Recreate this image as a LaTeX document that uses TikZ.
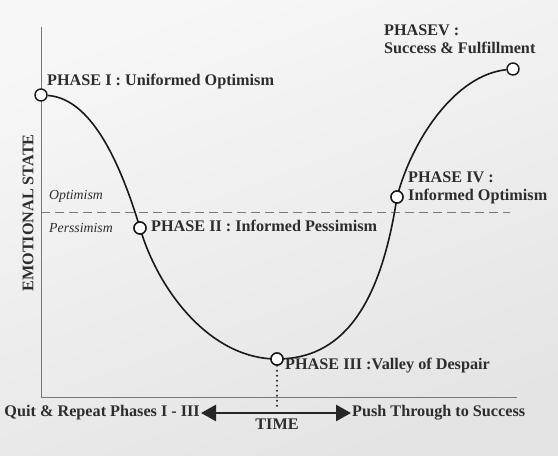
\documentclass[tikz,border=0pt]{standalone}
\usepackage{fontspec}
\setmainfont{Liberation Serif}
\usetikzlibrary{arrows.meta}
\definecolor{bgtop}{RGB}{247,247,247}
\definecolor{bgbot}{RGB}{228,228,228}
\definecolor{axisgray}{RGB}{120,120,120}
\definecolor{txt}{RGB}{45,45,45}

\begin{document}
\begin{tikzpicture}[x=1pt, y=-1pt,
  dot/.style={circle, draw=black!90, fill=white, line width=1.4pt, minimum size=12pt, inner sep=0pt},
  lbl/.style={text=txt, font=\fontsize{16.2}{18}\selectfont\bfseries, inner sep=1pt},
  side/.style={text=txt, font=\fontsize{13.8}{15}\selectfont\itshape, inner sep=1pt},
  axis/.style={draw=axisgray, line width=1pt}]
  \shade[top color=bgtop, bottom color=bgbot, shading angle=20] (0,0) rectangle (558,456);
  \useasboundingbox (0,0) rectangle (558,456);

  % axes and the optimism line
  \draw[axis] (41,27) -- (41,397) -- (517,397);
  \draw[draw=axisgray, line width=0.8pt, dash pattern=on 9pt off 5pt] (41,212) -- (510,212);

  % phase points
  \node[dot] (ph1) at (41,95) {};
  \node[dot] (ph2) at (140,228) {};
  \node[dot] (ph3) at (277,359) {};
  \node[dot] (ph4) at (397,197) {};
  \node[dot] (ph5) at (513,69) {};

  \draw[line width=1.6pt, black!90] (ph1) .. controls (85,98) and (115,145) .. (ph2.center)
    .. controls (158,290) and (210,359) .. (ph3.center)
    .. controls (340,359) and (380,310) .. (ph4.center)
    .. controls (412,140) and (455,75) .. (ph5);
  % redraw the points on top of the curve
  \foreach \p in {ph2,ph3,ph4}
    \node[dot] at (\p) {};

  % labels
  \node[lbl, anchor=west] (l1) at (46,82) {PHASE I : Uniformed Optimism};
  \node[lbl, anchor=west] (l2) at (150,226) {PHASE II : Informed Pessimism};
  \node[lbl, anchor=west] (l3) at (284,366) {PHASE III :Valley of Despair};
  \node[lbl, anchor=west, align=left] (l4) at (407,188) {PHASE IV :\\Informed Optimism};
  \node[lbl, anchor=west, align=left] (l5) at (383,39) {PHASEV :\\Success \& Fulfillment};

  \node[side, anchor=west] (opt) at (48,196) {Optimism};
  \node[side, anchor=west] (pes) at (48,228) {Perssimism};

  \node[lbl, rotate=90] (ylab) at (28,213) {EMOTIONAL STATE};

  % time axis
  \node[lbl, anchor=east] (quit) at (201,413) {Quit \& Repeat Phases I - III};
  \node[lbl, anchor=west] (push) at (351,413) {Push Through to Success};
  \node[lbl] (time) at (277,424) {TIME};
  \coordinate (tick) at (277,410);
  \draw[line width=2.2pt, black!85, dash pattern=on 0pt off 5pt, line cap=round] (ph3) -- (tick);
  \draw[line width=2.6pt, black!85, {Triangle[length=15pt,width=16pt]}-{Triangle[length=15pt,width=16pt]}] (quit) -- (push);
\end{tikzpicture}
\end{document}
